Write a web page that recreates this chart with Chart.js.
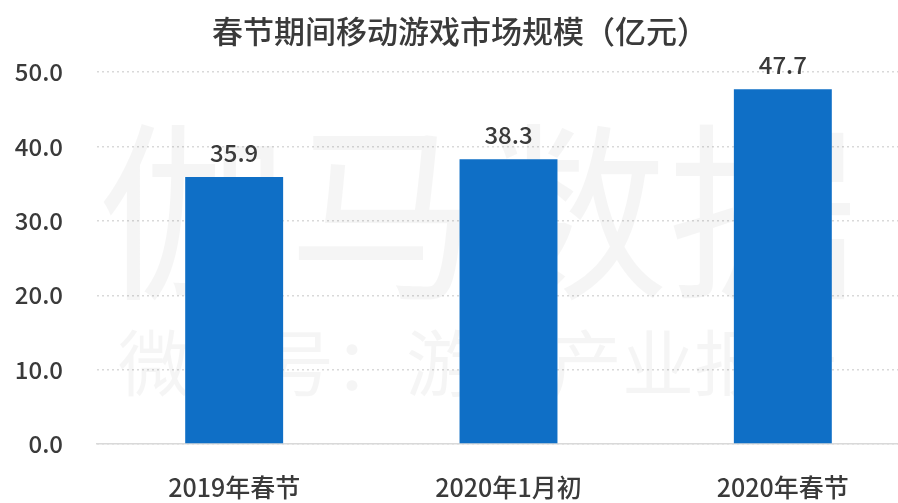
<!DOCTYPE html>
<html>
<head>
<meta charset="utf-8">
<script src="https://cdn.jsdelivr.net/npm/chart.js@4"></script>
<style>
    html, body { margin: 0; padding: 0; background: #fff; overflow: hidden; }
    #wrap { width: 922px; height: 503px; }
</style>
</head>
<body>
<div id="wrap"><canvas id="market-chart"></canvas></div>
<script>
// 春节期间移动游戏市场规模

const categories = ['2019年春节', '2020年1月初', '2020年春节'];
const values = [35.9, 38.3, 47.7];
const yTicks = [0, 10, 20, 30, 40, 50];

const chartTitle = '春节期间移动游戏市场规模（亿元）';
const watermarkBig = '伽马数据';
const watermarkSmall = '微信号：游戏产业报告';

const barColor = '#0f6fc6';
const textColor = '#3a3a3a';
const gridColor = '#d9d9d9';
const fontFamily = '"Noto Sans CJK SC", "Noto Sans", sans-serif';

// filigrane pale derrière les barres
const watermarkPlugin = {
    id: 'watermark',
    beforeDatasetsDraw(chart) {
        const ctx = chart.ctx;
        const area = chart.chartArea;
        ctx.save();
        ctx.fillStyle = 'rgba(0,0,0,0.04)';
        ctx.textAlign = 'center';
        ctx.textBaseline = 'middle';
        ctx.font = '190px ' + fontFamily;
        ctx.fillText(watermarkBig, 478, area.top + 140);
        ctx.font = '72px ' + fontFamily;
        ctx.fillText(watermarkSmall, 478, area.top + 290);
        ctx.restore();
    }
};

// étiquettes de valeur au-dessus des barres
const valueLabelPlugin = {
    id: 'valueLabels',
    afterDatasetsDraw(chart) {
        const ctx = chart.ctx;
        const meta = chart.getDatasetMeta(0);
        ctx.save();
        ctx.fillStyle = textColor;
        ctx.font = '500 24px ' + fontFamily;
        ctx.textAlign = 'center';
        ctx.textBaseline = 'bottom';
        meta.data.forEach(function(bar, i) {
            ctx.fillText(values[i].toFixed(1), bar.x, bar.y - 12);
        });
        ctx.restore();
    }
};

new Chart(document.getElementById('market-chart'), {
    type: 'bar',
    data: {
        labels: categories,
        datasets: [{
            data: values,
            backgroundColor: barColor,
            borderWidth: 0,
            categoryPercentage: 1,
            barPercentage: 0.357
        }]
    },
    options: {
        responsive: true,
        maintainAspectRatio: false,
        animation: false,
        layout: {
            padding: { left: 0, right: 2, top: 0, bottom: 0 }
        },
        plugins: {
            legend: { display: false },
            tooltip: { enabled: false },
            title: {
                display: true,
                text: chartTitle,
                color: textColor,
                font: { family: fontFamily, size: 31, weight: '500' },
                padding: { top: 13, bottom: 22 }
            }
        },
        scales: {
            x: {
                grid: { display: false, drawTicks: false },
                border: { display: true, color: gridColor, width: 1.5 },
                ticks: {
                    color: textColor,
                    font: { family: fontFamily, size: 25, weight: '500' },
                    padding: 28
                },
                afterFit: function(axis) {
                    axis.height = 59;
                }
            },
            y: {
                min: 0,
                max: 50,
                afterBuildTicks: function(axis) {
                    axis.ticks = yTicks.map(v => ({ value: v }));
                },
                grid: {
                    color: gridColor,
                    lineWidth: 1.5,
                    drawTicks: false
                },
                border: { display: false, dash: [2, 3] },
                ticks: {
                    color: textColor,
                    font: { family: fontFamily, size: 24, weight: '500' },
                    padding: 34,
                    callback: function(value) {
                        return Number(value).toFixed(1);
                    }
                },
                afterFit: function(axis) {
                    axis.width = 97;
                }
            }
        }
    },
    plugins: [watermarkPlugin, valueLabelPlugin]
});
</script>
</body>
</html>
